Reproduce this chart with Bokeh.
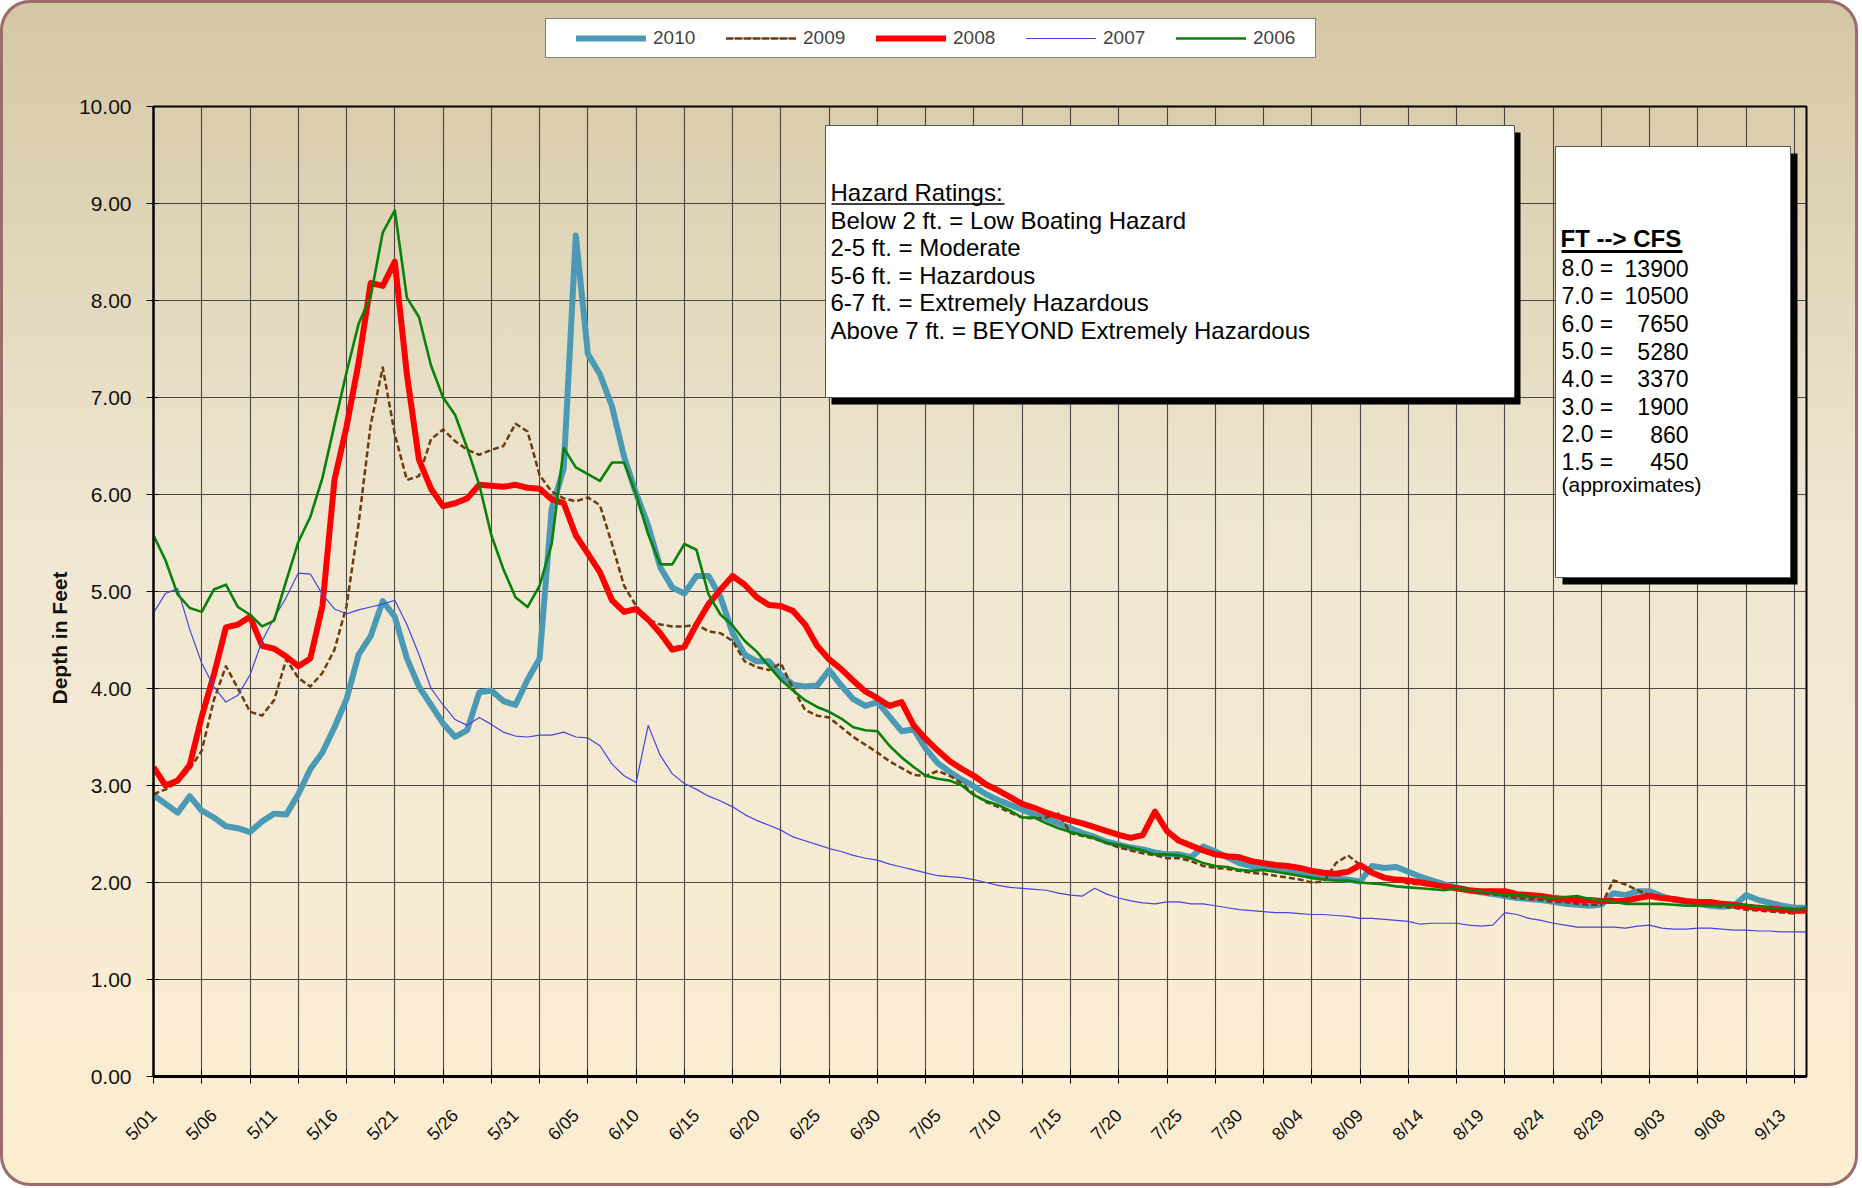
import math
from bokeh.plotting import figure
from bokeh.layouts import column
from bokeh.models import Range1d, FixedTicker, PrintfTickFormatter, Legend, LegendItem, LinearAxis, Title
from bokeh.core.properties import value
from bokeh.embed import file_html
from bokeh.resources import INLINE

# ---------------- data (river depth in feet, daily 5/01 .. 9/15) ----------------
SERIES_NAMES = ["2010", "2009", "2008", "2007", "2006"]

DEPTH_2010 = [
    2.90, 2.81, 2.72, 2.89, 2.74, 2.67, 2.58, 2.56, 2.52, 2.63,
    2.71, 2.70, 2.91, 3.17, 3.34, 3.60, 3.89, 4.35, 4.54, 4.90,
    4.74, 4.31, 4.02, 3.83, 3.64, 3.50, 3.57, 3.96, 3.98, 3.87,
    3.83, 4.09, 4.31, 5.85, 6.27,
    8.67, 7.45, 7.24, 6.91, 6.39, 6.01, 5.68, 5.25, 5.04, 4.98,
    5.16, 5.16, 4.94, 4.57, 4.35, 4.28, 4.28, 4.14, 4.04, 4.02,
    4.03, 4.19, 4.03, 3.89, 3.82, 3.86, 3.71, 3.56, 3.58, 3.38,
    3.23, 3.14, 3.06,
    2.99, 2.91, 2.85, 2.80, 2.75, 2.70, 2.66, 2.61, 2.56, 2.51,
    2.47, 2.42, 2.39, 2.36, 2.34, 2.31, 2.29, 2.29, 2.26, 2.37,
    2.32, 2.26, 2.20, 2.17, 2.15, 2.13, 2.11, 2.09, 2.06, 2.05,
    2.04, 2.03, 2.01, 2.17,
    2.15, 2.16, 2.11, 2.06, 2.02, 1.98, 1.95, 1.92, 1.90, 1.88,
    1.86, 1.84, 1.83, 1.82, 1.80, 1.78, 1.77, 1.76, 1.77, 1.89,
    1.87, 1.91, 1.91, 1.86, 1.82, 1.80, 1.78, 1.76, 1.75, 1.76,
    1.87, 1.82, 1.79, 1.76, 1.74, 1.74,
]

DEPTH_2009 = [
    2.91, 2.96, 3.03, 3.17, 3.36, 3.88, 4.23, 4.00, 3.76, 3.72,
    3.88, 4.30, 4.11, 4.02, 4.16, 4.40, 4.85, 5.70, 6.72, 7.31,
    6.62, 6.15, 6.19, 6.57, 6.67, 6.55, 6.46, 6.41, 6.46, 6.50,
    6.73, 6.65, 6.20, 6.03, 5.96,
    5.93, 5.97, 5.89, 5.49, 5.06, 4.85, 4.71, 4.66, 4.64, 4.64,
    4.66, 4.59, 4.57, 4.49, 4.28, 4.22, 4.19, 4.26, 4.00, 3.78,
    3.72, 3.70, 3.60, 3.50, 3.42, 3.34, 3.25, 3.18, 3.11, 3.10,
    3.15, 3.10, 3.02,
    2.91, 2.83, 2.78, 2.72, 2.67, 2.66, 2.67, 2.71, 2.51, 2.48,
    2.45, 2.41, 2.36, 2.33, 2.30, 2.28, 2.25, 2.25, 2.22, 2.17,
    2.15, 2.14, 2.12, 2.10, 2.09, 2.07, 2.05, 2.03, 2.00, 2.01,
    2.20, 2.28, 2.18, 2.10,
    2.05, 2.03, 1.99, 1.98, 1.97, 1.95, 1.93, 1.91, 1.89, 1.88,
    1.86, 1.84, 1.83, 1.82, 1.80, 1.80, 1.78, 1.77, 1.77, 2.02,
    1.98, 1.92, 1.87, 1.86, 1.83, 1.80, 1.78, 1.76, 1.75, 1.74,
    1.72, 1.71, 1.70, 1.69, 1.68, 1.73,
]

DEPTH_2008 = [
    3.19, 3.00, 3.05, 3.21, 3.71, 4.14, 4.63, 4.66, 4.74, 4.44,
    4.41, 4.33, 4.23, 4.31, 4.85, 6.15, 6.70, 7.36, 8.18, 8.15,
    8.40, 7.24, 6.36, 6.06, 5.88, 5.91, 5.96, 6.10, 6.09, 6.08,
    6.10, 6.07, 6.06, 5.95, 5.91,
    5.58, 5.39, 5.20, 4.91, 4.79, 4.82, 4.71, 4.57, 4.40, 4.43,
    4.66, 4.87, 5.02, 5.16, 5.07, 4.94, 4.86, 4.85, 4.80, 4.66,
    4.44, 4.30, 4.20, 4.08, 3.97, 3.90, 3.82, 3.86, 3.62, 3.48,
    3.36, 3.25, 3.17,
    3.10, 3.01, 2.95, 2.88, 2.81, 2.77, 2.72, 2.68, 2.64, 2.61,
    2.57, 2.53, 2.49, 2.46, 2.49, 2.73, 2.53, 2.43, 2.38, 2.33,
    2.29, 2.27, 2.26, 2.22, 2.20, 2.18, 2.17, 2.15, 2.12, 2.10,
    2.09, 2.11, 2.18, 2.10,
    2.05, 2.03, 2.02, 2.00, 1.98, 1.96, 1.94, 1.92, 1.91, 1.91,
    1.91, 1.88, 1.87, 1.86, 1.84, 1.83, 1.82, 1.82, 1.81, 1.81,
    1.81, 1.84, 1.86, 1.84, 1.83, 1.81, 1.80, 1.80, 1.78, 1.77,
    1.75, 1.74, 1.73, 1.72, 1.71, 1.71,
]

DEPTH_2007 = [
    4.78, 4.98, 5.03, 4.61, 4.26, 4.02, 3.86, 3.93, 4.14, 4.49,
    4.73, 4.94, 5.19, 5.18, 4.97, 4.82, 4.77, 4.81, 4.84, 4.87,
    4.91, 4.66, 4.35, 4.00, 3.83, 3.68, 3.62, 3.70, 3.63, 3.55,
    3.51, 3.50, 3.52, 3.52, 3.55,
    3.50, 3.49, 3.41, 3.22, 3.10, 3.03, 3.62, 3.31, 3.12, 3.02,
    2.96, 2.89, 2.84, 2.78, 2.70, 2.64, 2.59, 2.54, 2.47, 2.43,
    2.39, 2.35, 2.32, 2.28, 2.25, 2.23, 2.19, 2.16, 2.13, 2.10,
    2.07, 2.06, 2.05,
    2.03, 2.00, 1.97, 1.95, 1.94, 1.93, 1.92, 1.89, 1.87, 1.86,
    1.94, 1.88, 1.84, 1.81, 1.79, 1.78, 1.80, 1.80, 1.78, 1.78,
    1.76, 1.74, 1.72, 1.71, 1.70, 1.69, 1.69, 1.68, 1.67, 1.67,
    1.66, 1.65, 1.63, 1.63,
    1.62, 1.61, 1.60, 1.57, 1.58, 1.58, 1.58, 1.56, 1.55, 1.56,
    1.69, 1.67, 1.63, 1.61, 1.58, 1.56, 1.54, 1.54, 1.54, 1.54,
    1.53, 1.55, 1.56, 1.53, 1.52, 1.52, 1.53, 1.53, 1.52, 1.51,
    1.51, 1.50, 1.50, 1.49, 1.49, 1.49,
]

DEPTH_2006 = [
    5.58, 5.32, 4.97, 4.83, 4.79, 5.02, 5.07, 4.84, 4.76, 4.64,
    4.70, 5.11, 5.51, 5.77, 6.17, 6.72, 7.26, 7.76, 8.04, 8.70,
    8.93, 8.03, 7.83, 7.33, 7.00, 6.82, 6.48, 6.10, 5.58, 5.23,
    4.94, 4.84, 5.06, 5.49, 6.48,
    6.28, 6.21, 6.14, 6.33, 6.33, 6.00, 5.59, 5.28, 5.28, 5.49,
    5.43, 4.97, 4.76, 4.65, 4.49, 4.38, 4.23, 4.09, 3.98, 3.88,
    3.81, 3.76, 3.69, 3.60, 3.57, 3.56, 3.41, 3.29, 3.19, 3.10,
    3.07, 3.05, 3.00,
    2.90, 2.84, 2.80, 2.74, 2.67, 2.67, 2.61, 2.56, 2.52, 2.49,
    2.46, 2.41, 2.39, 2.36, 2.33, 2.29, 2.29, 2.28, 2.25, 2.20,
    2.17, 2.16, 2.13, 2.12, 2.13, 2.11, 2.09, 2.07, 2.05, 2.03,
    2.02, 2.02, 2.00, 1.99,
    1.98, 1.96, 1.95, 1.94, 1.93, 1.92, 1.94, 1.92, 1.91, 1.89,
    1.87, 1.87, 1.86, 1.85, 1.84, 1.85, 1.86, 1.83, 1.82, 1.80,
    1.78, 1.78, 1.78, 1.78, 1.77, 1.76, 1.76, 1.76, 1.76, 1.77,
    1.77, 1.75, 1.74, 1.73, 1.72, 1.74,
]

TICK_LABELS = ["5/01", "5/06", "5/11", "5/16", "5/21", "5/26", "5/31", "6/05", "6/10",
               "6/15", "6/20", "6/25", "6/30", "7/05", "7/10", "7/15", "7/20", "7/25",
               "7/30", "8/04", "8/09", "8/14", "8/19", "8/24", "8/29", "9/03", "9/08", "9/13"]
LABEL_EVERY = 5      # days between date labels
GRID_EVERY = 4       # days between tick marks / vertical grid lines
Y_TICKS = list(range(0, 11))
Y_LABEL = "Depth in Feet"

HAZARD_TITLE = "Hazard Ratings:"
HAZARD_LINES = ["Below 2 ft. = Low Boating Hazard",
                "2-5 ft. = Moderate",
                "5-6 ft. = Hazardous",
                "6-7 ft. = Extremely Hazardous",
                "Above 7 ft. = BEYOND Extremely Hazardous"]
CFS_TITLE = "FT --> CFS"
CFS_FT = ["8.0", "7.0", "6.0", "5.0", "4.0", "3.0", "2.0", "1.5"]
CFS_VALUES = [13900, 10500, 7650, 5280, 3370, 1900, 860, 450]
CFS_NOTE = "(approximates)"

# ---------------- styling ----------------
FONT = "Liberation Sans"
COLORS = {"2010": "#4A9AB5", "2009": "#6E3B0E", "2008": "#FF0000", "2007": "#4646DE", "2006": "#0A820A"}
WIDTHS = {"2010": 6, "2009": 2.5, "2008": 6, "2007": 1.2, "2006": 2.6}
DASHES = {"2010": "solid", "2009": "6 3", "2008": "solid", "2007": "solid", "2006": "solid"}

series = {"2010": DEPTH_2010, "2009": DEPTH_2009, "2008": DEPTH_2008,
          "2007": DEPTH_2007, "2006": DEPTH_2006}
n_days = len(DEPTH_2010)
x_end = n_days - 1

# page layout: a thin legend strip on top, the chart below
W, H_TOTAL = 1858, 1186
H_TOP = 88
H = H_TOTAL - H_TOP
MB_L, MB_R, MB_T, MB_B = 153, 52, 18, 110

# ---------------- main chart ----------------
p = figure(width=W, height=H, x_range=Range1d(0, x_end), y_range=Range1d(0, 10),
           output_backend="svg", toolbar_location=None,
           min_border_left=MB_L, min_border_right=MB_R, min_border_top=MB_T, min_border_bottom=MB_B,
           border_fill_color=None, background_fill_color=None)
p.outline_line_color = "black"
p.outline_line_width = 2

# frame geometry in page pixels (used to place the annotation boxes)
FL, FT_ = MB_L, H_TOP + MB_T
FR, FB = W - MB_R, H_TOP + H - MB_B
def dx(px):
    return (px - FL) / (FR - FL) * x_end
def dy(py):
    return (FB - py) / (FB - FT_) * 10.0

label_days = [i * LABEL_EVERY for i in range(len(TICK_LABELS))]
grid_days = list(range(0, x_end + 1, GRID_EVERY))
xa = p.xaxis[0]
xa.ticker = FixedTicker(ticks=label_days, minor_ticks=grid_days)
xa.major_label_overrides = {d: t for d, t in zip(label_days, TICK_LABELS)}
xa.major_label_orientation = math.pi / 4
xa.major_tick_line_color = None
xa.major_tick_out = 0
xa.major_tick_in = 0
xa.minor_tick_in = 7
xa.minor_tick_out = 7
xa.minor_tick_line_color = "black"
xa.axis_line_width = 3
xa.axis_line_color = "black"
xa.major_label_text_font = FONT
xa.major_label_text_font_size = "18px"
xa.major_label_text_color = "#111111"
xa.major_label_standoff = 29

ya = p.yaxis[0]
ya.ticker = FixedTicker(ticks=Y_TICKS, minor_ticks=[])
ya.formatter = PrintfTickFormatter(format="%.2f")
ya.major_tick_in = 5
ya.major_tick_out = 7
ya.major_tick_line_color = "black"
ya.axis_line_width = 2
ya.axis_line_color = "black"
ya.major_label_text_font = FONT
ya.major_label_text_font_size = "21px"
ya.major_label_text_color = "#111111"
ya.major_label_standoff = 15

# spacer axis (its only tick lies outside the range, so nothing is drawn), then the y title
spacer = LinearAxis(ticker=FixedTicker(ticks=[-5], minor_ticks=[]), axis_line_color=None,
                    major_tick_line_color="black", minor_tick_line_color=None,
                    major_tick_in=0, major_tick_out=31, minor_tick_in=0, minor_tick_out=0,
                    major_label_standoff=0, major_label_overrides={-5: ""})
p.add_layout(spacer, "left")
y_title = Title(text=Y_LABEL, align="left", offset=372, text_font=FONT, text_font_size="21px",
                text_font_style="bold", text_color="#111111")
p.add_layout(y_title, "left")

p.xgrid.ticker = FixedTicker(ticks=grid_days)
p.ygrid.ticker = FixedTicker(ticks=Y_TICKS)
for g in (p.xgrid[0], p.ygrid[0]):
    g.grid_line_color = "#222222"
    g.grid_line_alpha = 0.8
    g.grid_line_width = 1.1

for name in SERIES_NAMES:
    vals = series[name]
    p.line(list(range(len(vals))), vals, line_color=COLORS[name],
           line_width=WIDTHS[name], line_dash=DASHES[name], line_join="round")

def base(py, fs):
    # text glyph y so that the alphabetic baseline sits at page pixel py
    return dy(py - 0.36 * fs)

# hazard box
hz_l, hz_r, hz_t, hz_b = 825, 1514, 125, 397
p.quad(left=[dx(hz_l + 6)], right=[dx(hz_r + 6)], top=[dy(hz_t + 7)], bottom=[dy(hz_b + 7)],
       fill_color="black", line_color=None)
p.quad(left=[dx(hz_l)], right=[dx(hz_r)], top=[dy(hz_t)], bottom=[dy(hz_b)],
       fill_color="white", line_color="#555555", line_width=1)
hz_lines = [HAZARD_TITLE] + HAZARD_LINES
p.text(x=[dx(830)] * len(hz_lines), y=[base(201 + 27.45 * i, 24) for i in range(len(hz_lines))],
       text=hz_lines, text_font=value(FONT), text_font_size="24px", text_color="black",
       text_align="left", text_baseline="alphabetic")
p.segment(x0=[dx(831)], y0=[dy(203.5)], x1=[dx(1004)], y1=[dy(203.5)], line_color="black", line_width=1.6)

# FT -> CFS box
cf_l, cf_r, cf_t, cf_b = 1555, 1790, 146, 577
p.quad(left=[dx(cf_l + 7)], right=[dx(cf_r + 7)], top=[dy(cf_t + 7)], bottom=[dy(cf_b + 7)],
       fill_color="black", line_color=None)
p.quad(left=[dx(cf_l)], right=[dx(cf_r)], top=[dy(cf_t)], bottom=[dy(cf_b)],
       fill_color="white", line_color="#555555", line_width=1)
p.text(x=[dx(1560)], y=[base(247, 24)], text=[CFS_TITLE], text_font=value(FONT), text_font_size="24px",
       text_font_style="bold", text_color="black", text_align="left", text_baseline="alphabetic")
p.segment(x0=[dx(1561)], y0=[dy(251)], x1=[dx(1682)], y1=[dy(251)], line_color="black", line_width=3)
cf_y = [base(276 + 27.67 * i, 23) for i in range(len(CFS_FT))]
p.text(x=[dx(1561)] * len(CFS_FT), y=cf_y, text=[f + " =" for f in CFS_FT], text_font=value(FONT),
       text_font_size="23px", text_color="black", text_align="left", text_baseline="alphabetic")
p.text(x=[dx(1688)] * len(CFS_VALUES), y=cf_y, text=[str(v) for v in CFS_VALUES], text_font=value(FONT),
       text_font_size="23px", text_color="black", text_align="right", text_baseline="alphabetic")
p.text(x=[dx(1561)], y=[base(492, 21)], text=[CFS_NOTE], text_font=value(FONT), text_font_size="21px",
       text_color="black", text_align="left", text_baseline="alphabetic")

# ---------------- legend strip above the chart ----------------
# The same series are drawn here with a y range that keeps them out of view; only the legend shows.
pl = figure(width=W, height=H_TOP, x_range=Range1d(0, x_end), y_range=Range1d(20, 21),
            output_backend="svg", toolbar_location=None,
            x_axis_location=None, y_axis_location=None,
            min_border_left=0, min_border_right=0, min_border_top=0, min_border_bottom=0,
            border_fill_color=None, background_fill_color=None)
pl.outline_line_color = None
pl.xgrid.visible = False
pl.ygrid.visible = False
leg_renderers = {}
for name in SERIES_NAMES:
    vals = series[name]
    leg_renderers[name] = pl.line(list(range(len(vals))), vals, line_color=COLORS[name],
                                  line_width=WIDTHS[name], line_dash=DASHES[name], line_cap="round")
LEG_LEFT, LEG_BOTTOM = 545, 58   # page pixels; the strip's frame is aligned with the chart frame
legend = Legend(items=[LegendItem(label=n, renderers=[leg_renderers[n]]) for n in SERIES_NAMES],
                orientation="horizontal", location=(LEG_LEFT - FL, H_TOP - LEG_BOTTOM),
                padding=8, spacing=19, glyph_width=70, glyph_height=20, label_standoff=7,
                label_width=54, label_text_font=FONT, label_text_font_size="19px",
                border_line_color="black", border_line_width=1.5,
                background_fill_color="white", background_fill_alpha=1.0,
                title=" ", title_location="left", title_standoff=21, title_text_font_size="1px",
                margin=0)
pl.add_layout(legend, "center")

layout = column(pl, p, spacing=0)
layout.styles = {
    "background": "linear-gradient(to bottom, #D4C7A4 0%, #EFE7D2 45%, #FDEED2 100%)",
    "border-radius": "30px",
    "box-shadow": "inset 0 0 0 3px #9C6C6C",
}

open("out.html", "w").write(file_html(layout, INLINE))
